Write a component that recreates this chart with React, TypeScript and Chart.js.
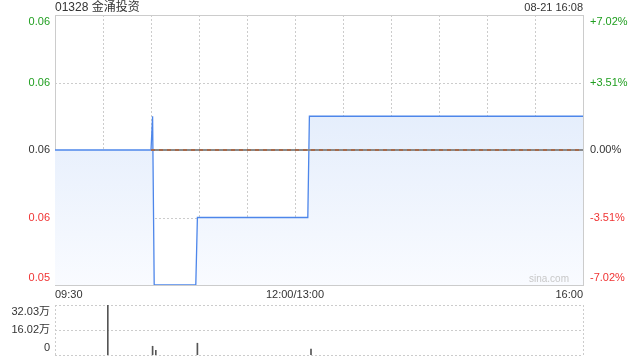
import React, { useEffect, useRef } from "react";
import { Chart, registerables } from "chart.js";

Chart.register(...registerables);

// ---- data ----
const titleText = "01328 金涌投资";
const stampText = "08-21 16:08";
const watermark = "sina.com";
const prevClose = 0.057;
const priceTimes = ["09:30", "10:30", "10:31", "10:32", "10:58", "10:59", "13:08", "13:09", "16:00"];
const prices = [0.057, 0.057, 0.058, 0.053, 0.053, 0.055, 0.055, 0.058, 0.058];
const volTimes = ["10:03", "10:31", "10:33", "10:59", "13:10"];
const volumes = [320300, 56000, 30000, 75400, 38700];
const pctTicks = [-7.02, -3.51, 0, 3.51, 7.02];
const priceLabels = ["0.05", "0.06", "0.06", "0.06", "0.06"];
const pctLabels = ["-7.02%", "-3.51%", "0.00%", "+3.51%", "+7.02%"];
const volTicks = [0, 160150, 320300];
const volLabels = ["0", "16.02万", "32.03万"];
const xTickTimes = ["09:30", "12:00", "16:00"];
const xTickLabels = ["09:30", "12:00/13:00", "16:00"];
const gridTimes = ["10:00", "10:30", "11:00", "11:30", "12:00", "13:30", "14:00", "14:30", "15:00", "15:30"];

const FONT = '"Liberation Sans", Arial, "Noto Sans CJK SC", sans-serif';
const GREEN = "#1f9e1f";
const RED = "#f03333";
const DARK = "#333333";
const GRID = "#cccccc";

function toMinute(t: string): number {
  const [h, m] = t.split(":").map(Number);
  let v = h * 60 + m - 570;
  if (h >= 13) v -= 60;
  return v;
}
const pct = (p: number) => (p / prevClose - 1) * 100;
const X_MAX = toMinute("16:00");

function shiftLabel(text: string, idx: number, n: number): string | string[] {
  if (idx === n - 1) return ["", text];
  if (idx === 0) return [text, ""];
  return text;
}

const mainGrid = {
  id: "mainGrid",
  beforeDatasetsDraw(chart: any) {
    const { ctx, chartArea: a, scales } = chart;
    const xs = scales.x;
    const ys = scales.y;
    ctx.save();
    ctx.lineWidth = 1;
    ctx.strokeStyle = GRID;
    ctx.setLineDash([2, 2]);
    gridTimes.forEach((t) => {
      const x = Math.round(xs.getPixelForValue(toMinute(t))) + 0.5;
      ctx.beginPath();
      ctx.moveTo(x, a.top);
      ctx.lineTo(x, a.bottom);
      ctx.stroke();
    });
    [pctTicks[1], pctTicks[3]].forEach((v) => {
      const y = Math.round(ys.getPixelForValue(v)) + 0.5;
      ctx.beginPath();
      ctx.moveTo(a.left, y);
      ctx.lineTo(a.right, y);
      ctx.stroke();
    });
    ctx.setLineDash([]);
    ctx.strokeStyle = GRID;
    ctx.strokeRect(Math.round(a.left) + 0.5, Math.round(a.top) + 0.5, Math.round(a.right - a.left), Math.round(a.bottom - a.top));
    ctx.restore();
  },
  afterDatasetsDraw(chart: any) {
    const { ctx, chartArea: a, scales } = chart;
    const y0 = Math.round(scales.y.getPixelForValue(0));
    const xSplit = scales.x.getPixelForValue(toMinute("10:30"));
    ctx.save();
    ctx.lineWidth = 2;
    ctx.strokeStyle = "#8a8a8a";
    ctx.beginPath();
    ctx.moveTo(xSplit, y0);
    ctx.lineTo(a.right, y0);
    ctx.stroke();
    ctx.setLineDash([4, 4]);
    ctx.strokeStyle = "#a56a4c";
    ctx.beginPath();
    ctx.moveTo(xSplit, y0);
    ctx.lineTo(a.right, y0);
    ctx.stroke();
    ctx.restore();
  },
  afterDraw(chart: any) {
    const { ctx, chartArea: a } = chart;
    ctx.save();
    ctx.fillStyle = DARK;
    ctx.textBaseline = "middle";
    ctx.font = `12px ${FONT}`;
    ctx.textAlign = "left";
    ctx.fillText(titleText, a.left, 8);
    ctx.font = `11px ${FONT}`;
    ctx.textAlign = "right";
    ctx.fillText(stampText, a.right, 8);
    ctx.fillStyle = "#c8c8c8";
    ctx.font = `10px ${FONT}`;
    ctx.fillText(watermark, a.right - 14, a.bottom - 6);
    ctx.restore();
  },
};

const volGrid = {
  id: "volGrid",
  beforeDatasetsDraw(chart: any) {
    const { ctx, chartArea: a, scales } = chart;
    ctx.save();
    ctx.lineWidth = 1;
    ctx.strokeStyle = GRID;
    ctx.setLineDash([2, 2]);
    volTicks.forEach((v) => {
      let y = Math.round(scales.y.getPixelForValue(v)) + 0.5;
      ctx.beginPath();
      ctx.moveTo(a.left, y);
      ctx.lineTo(a.right, y);
      ctx.stroke();
    });
    [a.left, a.right].forEach((x) => {
      const px = Math.round(x) + 0.5;
      ctx.beginPath();
      ctx.moveTo(px, a.top);
      ctx.lineTo(px, a.bottom);
      ctx.stroke();
    });
    ctx.restore();
  },
};

const fitV = (w: number) => (s: any) => {
  s.width = w;
  s.paddingTop = 0;
  s.paddingBottom = 0;
};

export default function App() {
  const mainRef = useRef<HTMLCanvasElement>(null);
  const volRef = useRef<HTMLCanvasElement>(null);

  useEffect(() => {
    const labelColor = (c: any) => {
      const v = c.tick ? c.tick.value : 0;
      return v > 0.001 ? GREEN : v < -0.001 ? RED : DARK;
    };
    const yAxis = (labels: string[], pos: string, w: number, pad: number) => ({
      position: pos,
      min: pctTicks[0],
      max: pctTicks[pctTicks.length - 1],
      grid: { display: false, drawTicks: false },
      border: { display: false },
      afterBuildTicks: (s: any) => {
        s.ticks = pctTicks.map((v) => ({ value: v }));
      },
      afterFit: fitV(w),
      ticks: {
        autoSkip: false,
        padding: pad,
        font: { size: 11, family: FONT },
        color: labelColor,
        callback: (v: any) => {
          const i = pctTicks.indexOf(Number(v));
          return shiftLabel(labels[i], i, pctTicks.length);
        },
      },
    });

    const main = new Chart(mainRef.current!, {
      type: "line",
      data: {
        datasets: [
          {
            data: priceTimes.map((t, i) => ({ x: toMinute(t), y: pct(prices[i]) })),
            borderColor: "#4d86ea",
            borderWidth: 1.3,
            pointRadius: 0,
            tension: 0,
            fill: "start",
            backgroundColor: (c: any) => {
              const a = c.chart.chartArea;
              if (!a) return "rgba(220,232,250,0.8)";
              const g = c.chart.ctx.createLinearGradient(0, a.top, 0, a.bottom);
              g.addColorStop(0, "#d9e6fa");
              g.addColorStop(1, "#f9fbff");
              return g;
            },
          },
        ],
      },
      options: {
        animation: false,
        responsive: false,
        maintainAspectRatio: false,
        events: [],
        layout: { padding: { top: 15, left: 0, right: 0, bottom: 0 } },
        plugins: { legend: { display: false }, tooltip: { enabled: false } },
        scales: {
          x: {
            type: "linear",
            min: 0,
            max: X_MAX,
            grid: { display: false, drawTicks: false },
            border: { display: false },
            afterBuildTicks: (s: any) => {
              s.ticks = xTickTimes.map((t) => ({ value: toMinute(t) }));
            },
            afterFit: (s: any) => {
              s.height = 15;
              s.paddingLeft = 0;
              s.paddingRight = 0;
            },
            ticks: {
              autoSkip: false,
              maxRotation: 0,
              align: "inner",
              padding: 3,
              color: DARK,
              font: { size: 11, family: FONT },
              callback: (v: any) => {
                const i = xTickTimes.map(toMinute).indexOf(Number(v));
                return i >= 0 ? xTickLabels[i] : "";
              },
            },
          },
          y: yAxis(priceLabels, "left", 55, 5),
          y2: yAxis(pctLabels, "right", 57, 7),
        },
      } as any,
      plugins: [mainGrid],
    });

    const vol = new Chart(volRef.current!, {
      type: "bar",
      data: {
        datasets: [
          {
            data: volTimes.map((t, i) => ({ x: toMinute(t), y: volumes[i] })),
            backgroundColor: "#555555",
            borderWidth: 0,
            barThickness: 1,
          },
        ],
      },
      options: {
        animation: false,
        responsive: false,
        maintainAspectRatio: false,
        events: [],
        layout: { padding: { top: 5, left: 0, right: 57, bottom: 5 } },
        plugins: { legend: { display: false }, tooltip: { enabled: false } },
        scales: {
          x: { type: "linear", min: 0, max: X_MAX, display: false, offset: false },
          y: {
            min: 0,
            max: volTicks[volTicks.length - 1],
            grid: { display: false, drawTicks: false },
            border: { display: false },
            afterBuildTicks: (s: any) => {
              s.ticks = volTicks.map((v) => ({ value: v }));
            },
            afterFit: fitV(55),
            ticks: {
              autoSkip: false,
              padding: 5,
              color: DARK,
              font: { size: 11, family: FONT },
              callback: (v: any) => {
                const i = volTicks.indexOf(Number(v));
                return shiftLabel(volLabels[i], i, volTicks.length);
              },
            },
          },
        },
      } as any,
      plugins: [volGrid],
    });

    return () => {
      main.destroy();
      vol.destroy();
    };
  }, []);

  return (
    <div style={{ position: "fixed", left: 0, top: 0, width: 640, height: 360, background: "#fff" }}>
      <canvas ref={mainRef} width={640} height={300} style={{ position: "absolute", left: 0, top: 0, width: 640, height: 300 }} />
      <canvas ref={volRef} width={640} height={60} style={{ position: "absolute", left: 0, top: 300, width: 640, height: 60 }} />
    </div>
  );
}
